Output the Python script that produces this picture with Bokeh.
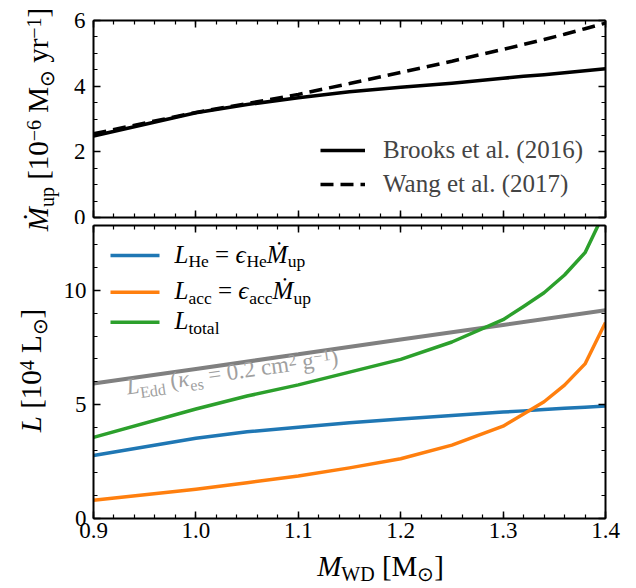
import math
from bokeh.plotting import figure
from bokeh.models import (Range1d, LinearAxis, Label, BoxAnnotation, Legend, LegendItem,
                          FixedTicker, PrintfTickFormatter, CustomJSTickFormatter)
from bokeh.layouts import column, row
from bokeh.embed import file_html
from bokeh.resources import INLINE

# ---------------- data ----------------
m_wd = [0.90, 1.00, 1.05, 1.10, 1.15, 1.20, 1.25, 1.30, 1.32, 1.34, 1.36, 1.38, 1.40]
mdot_brooks = [2.48, 3.19, 3.44, 3.65, 3.83, 3.97, 4.09, 4.24, 4.30, 4.35, 4.41, 4.47, 4.53]
mdot_wang = [2.55, 3.20, 3.47, 3.75, 4.08, 4.42, 4.76, 5.12, 5.27, 5.42, 5.58, 5.75, 5.92]
l_he = [2.76, 3.52, 3.80, 4.00, 4.20, 4.36, 4.52, 4.67, 4.72, 4.78, 4.83, 4.88, 4.93]
l_acc = [0.80, 1.28, 1.57, 1.86, 2.22, 2.62, 3.22, 4.05, 4.58, 5.12, 5.85, 6.78, 8.60]
l_total = [3.56, 4.80, 5.37, 5.86, 6.42, 6.98, 7.74, 8.72, 9.30, 9.90, 10.68, 11.66, 13.53]
m_edd = [0.90, 1.00, 1.10, 1.20, 1.30, 1.40]
l_edd = [5.92, 6.56, 7.20, 7.85, 8.49, 9.13]

legend_top = ["Brooks et al. (2016)", "Wang et al. (2017)"]

x_major = [0.9, 1.0, 1.1, 1.2, 1.3, 1.4]
x_minor = [round(0.9 + 0.02 * i, 2) for i in range(26)]
y1_major = [0, 2, 4, 6]
y1_minor = [0.5 * i for i in range(13)]
y2_major = [0, 5, 10]
y2_minor = list(range(14))

SERIF = "Liberation Serif"
BLUE, ORANGE, GREEN, GRAY = "#1f77b4", "#ff7f0e", "#2ca02c", "#808080"

# ---------------- helpers for composed (sub/superscript) text ----------------
REG = {' ': .25, '[': .333, ']': .333, '(': .333, ')': .333, '.': .25, '=': .564, '\u2212': .564,
       'M': .889, 'L': .611, 'W': .944, 'D': .722, 'H': .722, 'E': .611,
       'a': .444, 'c': .444, 'd': .5, 'e': .444, 'g': .5, 'l': .278, 'm': .778, 'o': .5,
       'p': .5, 'r': .333, 's': .389, 't': .278, 'u': .5, 'y': .5, '\u2299': .84}
ITA = {'M': .833, '\u1e40': .833, 'L': .556, '\u03f5': .44, '\u03ba': .5}
DESC = 0.216  # font descent (em) of Liberation Serif


def seg_w(t, s, it):
    tot = 0.0
    for c in t:
        if it and c in ITA:
            tot += ITA[c]
        else:
            tot += REG.get(c, 0.5)
    return tot * s


def compose(p, segs, x0, y0, angle=0.0, color="black", align="left"):
    """Place text pieces along a baseline; (x0, y0) is the baseline start/centre."""
    th = math.radians(angle)
    total = sum(seg_w(t, s, it) for t, s, it, sh in segs)
    adv = 0.0 if align == "left" else -total / 2.0
    for t, s, it, sh in segs:
        lead = len(t) - len(t.lstrip(" "))
        body = t.strip(" ")
        a = adv + lead * REG[' '] * s
        off = sh - DESC * s  # bottom of the text box lies one descent below the baseline
        sx = x0 + a * math.cos(th) - off * math.sin(th)
        sy = y0 + a * math.sin(th) + off * math.cos(th)
        p.add_layout(Label(x=sx, y=sy, x_units="screen", y_units="screen", text=body,
                           text_font=SERIF, text_font_size=f"{s}px",
                           text_font_style="italic" if it else "normal",
                           text_color=color, angle=th, angle_units="rad",
                           text_align="left", text_baseline="bottom"))
        adv += seg_w(t, s, it)


blank = CustomJSTickFormatter(code="return ''")


def style_axis(ax, show_labels, ticker, fmt=None, standoff=6):
    ax.ticker = ticker
    ax.axis_line_width = 2
    ax.axis_line_color = "black"
    ax.major_tick_in = 7
    ax.major_tick_out = 0
    ax.minor_tick_in = 4
    ax.minor_tick_out = 0
    ax.major_tick_line_width = 1.5
    ax.minor_tick_line_width = 1.2
    ax.major_tick_line_color = "black"
    ax.minor_tick_line_color = "black"
    ax.major_label_text_font = SERIF
    ax.major_label_text_color = "black"
    ax.axis_label = None
    if show_labels:
        if fmt is not None:
            ax.formatter = fmt
        ax.major_label_text_font_size = "23px"
        ax.major_label_standoff = standoff
    else:
        ax.formatter = blank
        ax.major_label_text_font_size = "1px"
        ax.major_label_standoff = 0


def make_fig(yr, fh, top, bottom):
    p = figure(frame_width=512, frame_height=fh, x_range=Range1d(0.9, 1.4), y_range=yr,
               output_backend="svg", toolbar_location=None,
               min_border_left=31, min_border_right=25, min_border_top=top,
               min_border_bottom=bottom, outline_line_color=None,
               background_fill_color="white", border_fill_color="white")
    p.xgrid.visible = False
    p.ygrid.visible = False
    return p


def text_fig(w, h):
    f = figure(frame_width=w, frame_height=h, x_range=Range1d(0, w), y_range=Range1d(0, h),
               output_backend="svg", toolbar_location=None, min_border=0,
               min_border_left=0, min_border_right=0, min_border_top=0, min_border_bottom=0,
               outline_line_color=None, x_axis_location=None, y_axis_location=None,
               background_fill_color="white", border_fill_color="white")
    f.xgrid.visible = False
    f.ygrid.visible = False
    return f


xfmt = PrintfTickFormatter(format="%.1f")
xt = FixedTicker(ticks=x_major, minor_ticks=x_minor)
yt1 = FixedTicker(ticks=y1_major, minor_ticks=y1_minor)
yt2 = FixedTicker(ticks=y2_major, minor_ticks=y2_minor)

# ---------------- top panel ----------------
p1 = make_fig(Range1d(0, 6), 197, 20, 7)
style_axis(p1.xaxis[0], False, xt)
style_axis(p1.yaxis[0], True, yt1, standoff=8)
ax_a = LinearAxis()
style_axis(ax_a, False, xt)
p1.add_layout(ax_a, "above")
ax_r = LinearAxis()
style_axis(ax_r, False, yt1)
p1.add_layout(ax_r, "right")

r_b = p1.line(m_wd, mdot_brooks, line_color="black", line_width=3.5, line_join="round")
r_w = p1.line(m_wd, mdot_wang, line_color="black", line_width=3.5, line_dash="13 7")

leg = Legend(items=[LegendItem(label=legend_top[0], renderers=[r_b]),
                    LegendItem(label=legend_top[1], renderers=[r_w])],
             location=(227, 16), padding=0, margin=0, spacing=0,
             glyph_width=45, glyph_height=34, label_height=34, label_standoff=18,
             label_text_font=SERIF, label_text_font_size="25px",
             border_line_color=None, background_fill_alpha=0)
p1.add_layout(leg)

# ---------------- bottom panel ----------------
p2 = make_fig(Range1d(0, 12.85), 293, 1, 31)
style_axis(p2.xaxis[0], True, xt, xfmt, standoff=4)
style_axis(p2.yaxis[0], True, yt2, standoff=7)
ax_a2 = LinearAxis()
style_axis(ax_a2, False, xt)
p2.add_layout(ax_a2, "above")
ax_r2 = LinearAxis()
style_axis(ax_r2, False, yt2)
p2.add_layout(ax_r2, "right")

p2.line(m_edd, l_edd, line_color=GRAY, line_width=4)
p2.line(m_wd, l_he, line_color=BLUE, line_width=3.5, line_join="round")
p2.line(m_wd, l_acc, line_color=ORANGE, line_width=3.5, line_join="round")
p2.line(m_wd, l_total, line_color=GREEN, line_width=3.5, line_join="round")

# legend (sample lines + composed labels)
for c, yc in [(BLUE, 263), (ORANGE, 226.3), (GREEN, 196.3)]:
    p2.add_layout(BoxAnnotation(left=17, right=66, bottom=yc - 1.75, top=yc + 1.75,
                                left_units="screen", right_units="screen",
                                bottom_units="screen", top_units="screen",
                                fill_color=c, fill_alpha=1, line_alpha=0))

compose(p2, [("L", 25, True, 0), ("He", 17.5, False, -5), (" = ", 25, False, 0),
             ("\u03f5", 25, True, 0), ("He", 17.5, False, -5), ("\u1e40", 25, True, 0),
             ("up", 17.5, False, -5)], 81, 256.3)
compose(p2, [("L", 25, True, 0), ("acc", 17.5, False, -5), (" = ", 25, False, 0),
             ("\u03f5", 25, True, 0), ("acc", 17.5, False, -5), ("\u1e40", 25, True, 0),
             ("up", 17.5, False, -5)], 81, 219.6)
compose(p2, [("L", 25, True, 0), ("total", 17.5, False, -5)], 81, 189.6)

# Eddington label along the grey line
compose(p2, [("L", 23, True, 0), ("Edd", 16, False, -5), (" (", 23, False, 0),
             ("\u03ba", 23, True, 0), ("es", 16, False, -5), (" = 0.2 cm", 23, False, 0),
             ("2", 16, False, 9), (" g", 23, False, 0), ("\u22121", 16, False, 9),
             (")", 23, False, 0)], 34, 124, angle=8.1, color="#a0a0a0")

# ---------------- axis titles (separate text strips) ----------------
H_TOTAL = 586
left = text_fig(60, H_TOTAL)
compose(left, [("\u1e40", 29, True, 0), ("up", 20, False, -6), (" [10", 29, False, 0),
               ("\u22126", 20, False, 11), (" M", 29, False, 0), ("\u2299", 20, False, -6),
               (" yr", 29, False, 0), ("\u22121", 20, False, 11), ("]", 29, False, 0)],
        47, H_TOTAL - 119, angle=90, align="center")
compose(left, [("L", 29, True, 0), (" [10", 29, False, 0), ("4", 20, False, 11),
               (" L", 29, False, 0), ("\u2299", 20, False, -6), ("]", 29, False, 0)],
        40, H_TOTAL - 370, angle=90, align="center")

bottom = text_fig(568, 37)
compose(bottom, [("M", 29, True, 0), ("WD", 20, False, -5), (" [M", 29, False, 0),
                 ("\u2299", 20, False, -5), ("]", 29, False, 0)],
        347 - 60, 10.5, align="center")

layout = row(left, column(p1, p2, bottom, spacing=0), spacing=0)
open("out.html", "w").write(file_html(layout, INLINE))
